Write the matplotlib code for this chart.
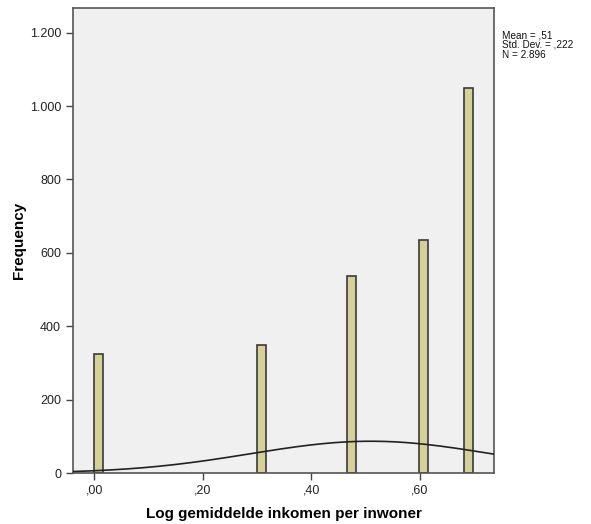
import numpy as np
import matplotlib
matplotlib.use("Agg")
import matplotlib.pyplot as plt
from matplotlib.ticker import FuncFormatter

plt.rcParams['font.family'] = ['Liberation Sans', 'DejaVu Sans']

# histogram bins (left edges) and counts
bin_width = np.log10(5) / 42
bin_lefts = [0.0, 18 * bin_width, 28 * bin_width, 36 * bin_width, 41 * bin_width]
counts = [324, 350, 536, 636, 1050]

# summary statistics
mean = 0.51
std_dev = 0.222
n_total = 2896

x_ticks = [0.0, 0.2, 0.4, 0.6]
y_ticks = [0, 200, 400, 600, 800, 1000, 1200]

fig = plt.figure(figsize=(5.91, 5.24), dpi=100)
ax = fig.add_axes([0.1235, 0.0973, 0.7124, 0.8874])
ax.set_facecolor('#F0F0F0')

ax.bar(bin_lefts, counts, width=bin_width, align='edge',
       color='#D5CF98', edgecolor='#3A3A3A', linewidth=1.2, zorder=2)

# normal curve scaled to counts
xs = np.linspace(-0.04, 0.74, 300)
pdf = np.exp(-0.5 * ((xs - mean) / std_dev) ** 2) / (std_dev * np.sqrt(2 * np.pi))
ax.plot(xs, pdf * n_total * bin_width, color='#222222', linewidth=1.2, zorder=3)

ax.set_xlim(-0.039, 0.737)
ax.set_ylim(0, 1267)
ax.set_xticks(x_ticks)
ax.set_yticks(y_ticks)
ax.xaxis.set_major_formatter(FuncFormatter(lambda v, p: ('%.2f' % v).replace('0.', ',')))
ax.yaxis.set_major_formatter(FuncFormatter(lambda v, p: '{:,.0f}'.format(v).replace(',', '.')))
ax.tick_params(direction='out', length=5, width=1, color='#444444',
               labelsize=9, labelcolor='#222222')

for side in ax.spines.values():
    side.set_color('#555555')
    side.set_linewidth(1.2)

ax.set_xlabel('Log gemiddelde inkomen per inwoner', fontsize=11, fontweight='bold', labelpad=7)
ax.set_ylabel('Frequency', fontsize=11, fontweight='bold', labelpad=3)

stats = 'Mean = ,%d\nStd. Dev. = ,%d\nN = %s' % (round(mean * 100), round(std_dev * 1000),
                                                 '{:,}'.format(n_total).replace(',', '.'))
fig.text(0.849, 0.942, stats, fontsize=7.2, va='top', ha='left',
         linespacing=0.95, color='#111111')

fig.savefig('out.png', dpi=100)
